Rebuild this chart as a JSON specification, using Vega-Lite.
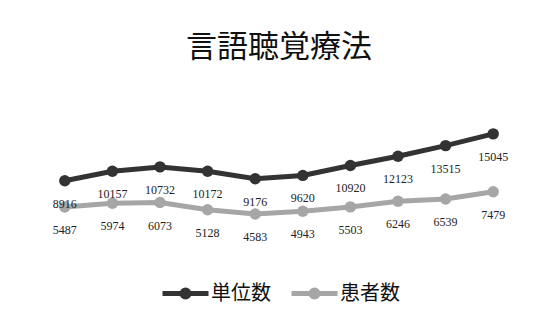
{
  "$schema": "https://vega.github.io/schema/vega-lite/v6.json",
  "autosize": {"type": "none"},
  "width": 476,
  "height": 153,
  "padding": {"left": 41, "right": 33, "top": 96, "bottom": 87},
  "background": "white",
  "title": {
    "text": "言語聴覚療法",
    "font": "Noto Sans CJK JP",
    "fontSize": 31,
    "fontWeight": "normal",
    "color": "#111111",
    "anchor": "middle",
    "offset": 32
  },
  "config": {"view": {"stroke": null}},
  "data": {
    "values": [
      {"i": 1, "series": "単位数", "value": 8916},
      {"i": 2, "series": "単位数", "value": 10157},
      {"i": 3, "series": "単位数", "value": 10732},
      {"i": 4, "series": "単位数", "value": 10172},
      {"i": 5, "series": "単位数", "value": 9176},
      {"i": 6, "series": "単位数", "value": 9620},
      {"i": 7, "series": "単位数", "value": 10920},
      {"i": 8, "series": "単位数", "value": 12123},
      {"i": 9, "series": "単位数", "value": 13515},
      {"i": 10, "series": "単位数", "value": 15045},
      {"i": 1, "series": "患者数", "value": 5487},
      {"i": 2, "series": "患者数", "value": 5974},
      {"i": 3, "series": "患者数", "value": 6073},
      {"i": 4, "series": "患者数", "value": 5128},
      {"i": 5, "series": "患者数", "value": 4583},
      {"i": 6, "series": "患者数", "value": 4943},
      {"i": 7, "series": "患者数", "value": 5503},
      {"i": 8, "series": "患者数", "value": 6246},
      {"i": 9, "series": "患者数", "value": 6539},
      {"i": 10, "series": "患者数", "value": 7479}
    ]
  },
  "encoding": {
    "x": {"field": "i", "type": "ordinal", "axis": null, "scale": {"type": "point", "padding": 0.5}},
    "y": {"field": "value", "type": "quantitative", "axis": null, "scale": {"domain": [0, 20000], "nice": false, "zero": true}}
  },
  "layer": [
    {
      "mark": {"type": "line", "strokeWidth": 5, "point": {"filled": true, "size": 130}},
      "encoding": {
        "color": {
          "field": "series",
          "type": "nominal",
          "scale": {"domain": ["単位数", "患者数"], "range": ["#333333", "#a6a6a6"]},
          "legend": {
            "title": null,
            "orient": "none",
            "legendX": 119,
            "legendY": 172,
            "direction": "horizontal",
            "labelFont": "Noto Sans CJK JP",
            "labelFontSize": 20,
            "labelColor": "#111111",
            "columnPadding": 10,
            "symbolType": "M-1,0L1,0M0.15,0A0.15,0.15,0,1,1,-0.15,0A0.15,0.15,0,1,1,0.15,0Z",
            "symbolSize": 2116,
            "symbolStrokeWidth": 5,
            "labelOffset": 0,
            "encode": {
              "symbols": {
                "update": {
                  "fill": {"scale": "color", "field": "value"},
                  "stroke": {"scale": "color", "field": "value"},
                  "strokeWidth": {"value": 5},
                  "opacity": {"value": 1}
                }
              }
            }
          }
        }
      }
    },
    {
      "mark": {"type": "text", "dy": 23, "font": "Liberation Serif", "fontSize": 12, "color": "#222222"},
      "encoding": {
        "text": {"field": "value", "type": "quantitative", "format": "d"},
        "detail": {"field": "series"}
      }
    }
  ]
}
